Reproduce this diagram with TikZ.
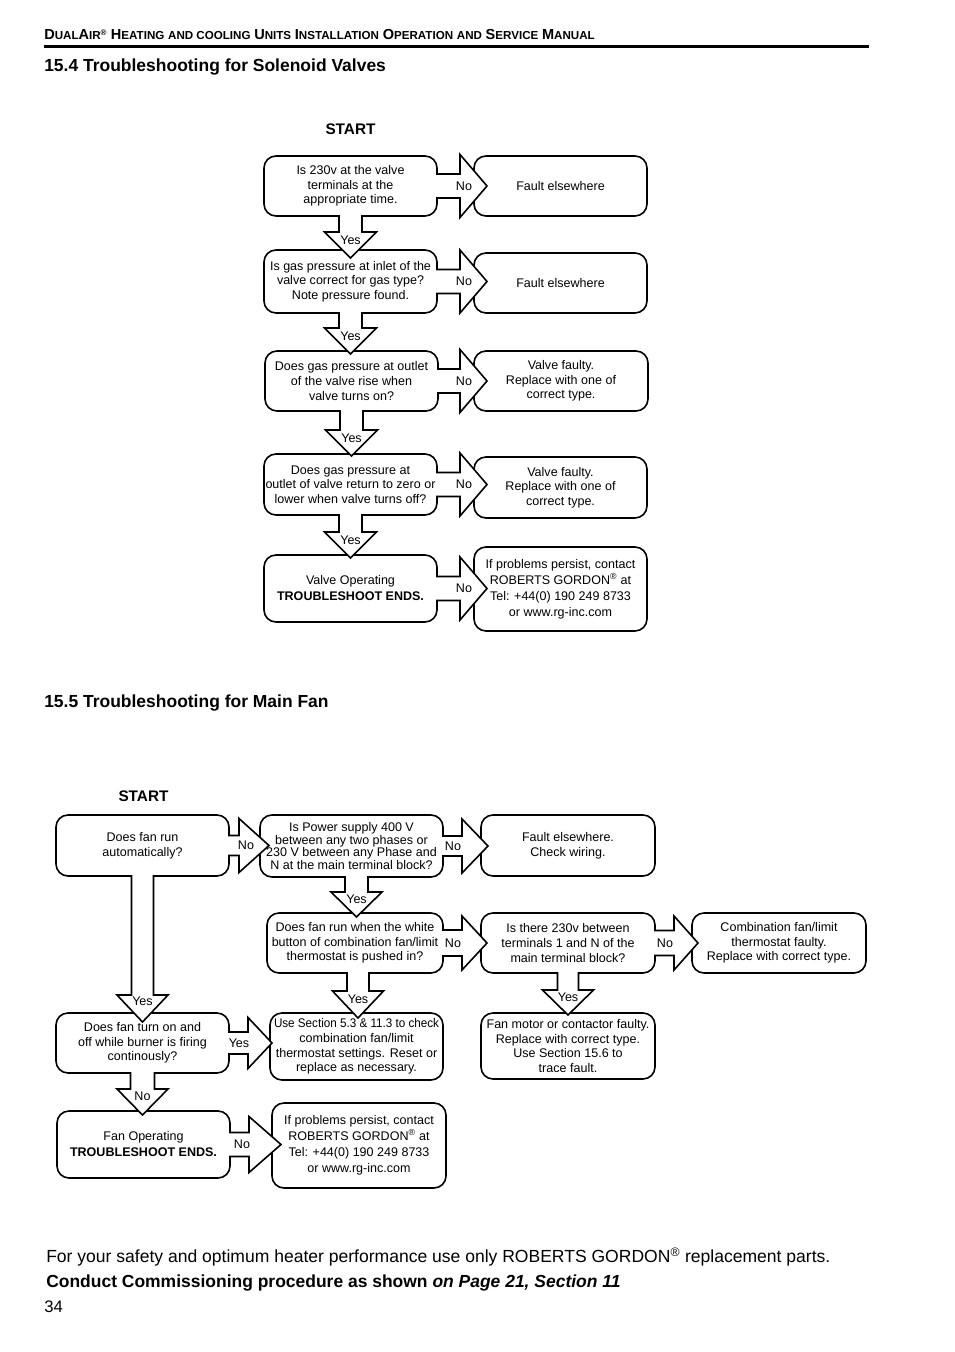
\documentclass[tikz,border=0pt]{standalone}
\usepackage{fontspec}
\setmainfont{Liberation Sans}
\usetikzlibrary{calc}
\newcommand\pxu{0.75pt}
\newcommand\boxfont{\fontsize{9.4}{10.9}\selectfont}
\newcommand\hsc[2]{{\fontsize{10.9}{12}\selectfont #1}{\fontsize{8.7}{12}\selectfont #2}}
\tikzset{
  box/.style={draw, fill=white, line width=1.2pt, rounded corners=9pt, inner sep=0pt, outer sep=0pt, align=center, font=\boxfont},
  arr/.style={draw, fill=white, line width=1.2pt, line join=miter},
  lbl/.style={inner sep=0pt, font=\boxfont},
  txt/.style={inner sep=0pt, anchor=base west},
}
% box: [opts]{name}{x1}{y1}{x2}{y2}{text}
\newcommand\bx[7][]{\node[box, minimum width={(#5-#3)*0.75pt}, minimum height={(#6-#4)*0.75pt}, #1] (#2) at ({(#3+#5)/2},{(#4+#6)/2}) {#7};}
% horizontal block arrow: src, tgt, headlen, overlap, halfshaft, halfhead, label offset (rel tgt.west), label
\newcommand\harr[8]{%
\filldraw[arr] let \p1=(#1.east), \p2=(#2.west) in
 ({\x1-0.7pt},{\y1+(#5)*\pxu}) -- ({\x2+((#4)-(#3))*\pxu},{\y1+(#5)*\pxu}) -- ({\x2+((#4)-(#3))*\pxu},{\y1+(#6)*\pxu}) -- ({\x2+(#4)*\pxu},\y1) -- ({\x2+((#4)-(#3))*\pxu},{\y1-(#6)*\pxu}) -- ({\x2+((#4)-(#3))*\pxu},{\y1-(#5)*\pxu}) -- ({\x1-0.7pt},{\y1-(#5)*\pxu});
\path let \p1=(#1.east), \p2=(#2.west) in node[lbl] at ({\x2+(#7)*\pxu},\y1) {#8};
}
% vertical block arrow: src, tgt, xshift, headlen, overlap, halfshaft, halfhead, label height above tip, label
\newcommand\varr[9]{%
\filldraw[arr] let \p1=(#1.south), \p2=(#2.north) in
 ({\x1+((#3)-(#6))*\pxu},{\y1+0.7pt}) -- ({\x1+((#3)-(#6))*\pxu},{\y2+((#4)-(#5))*\pxu}) -- ({\x1+((#3)-(#7))*\pxu},{\y2+((#4)-(#5))*\pxu}) -- ({\x1+(#3)*\pxu},{\y2-(#5)*\pxu}) -- ({\x1+((#3)+(#7))*\pxu},{\y2+((#4)-(#5))*\pxu}) -- ({\x1+((#3)+(#6))*\pxu},{\y2+((#4)-(#5))*\pxu}) -- ({\x1+((#3)+(#6))*\pxu},{\y1+0.7pt});
\path let \p1=(#1.south), \p2=(#2.north) in node[lbl] at ({\x1+(#3)*\pxu},{\y2+((#8)-(#5))*\pxu}) {#9};
}
\begin{document}
\begin{tikzpicture}[x=0.75pt, y=-0.75pt]
\useasboundingbox (0,0) rectangle (954,1352);
\fill[white] (0,0) rectangle (954,1352);

% header
\node[txt, font=\bfseries] (hdr) at (44,40) {\hsc{D}{UAL}\hsc{A}{IR}\textsuperscript{\fontsize{6}{6}\selectfont ®} \hsc{H}{EATING} \hsc{}{AND COOLING} \hsc{U}{NITS} \hsc{I}{NSTALLATION} \hsc{O}{PERATION} \hsc{}{AND} \hsc{S}{ERVICE} \hsc{M}{ANUAL}};
\draw[line width=2pt] (44,46.5) -- (869,46.5);

\node[txt, font=\fontsize{13.1}{15}\selectfont\bfseries] (t154) at (44,72) {15.4 Troubleshooting for Solenoid Valves};
\node[inner sep=0pt, anchor=base, font=\fontsize{11.5}{13}\selectfont\bfseries] (start1) at (350.5,135) {START};

% top chart boxes
\bx{q1}{264}{156}{437}{216}{Is 230v at the valve\\terminals at the\\appropriate time.}
\bx{f1}{474}{156}{647}{216}{Fault elsewhere}
\bx{q2}{264}{250}{437}{313}{Is gas pressure at inlet of the\\valve correct for gas type?\\Note pressure found.}
\bx{f2}{474}{253}{647}{313}{Fault elsewhere}
\bx{q3}{265}{351}{438}{411}{Does gas pressure at outlet\\of the valve rise when\\valve turns on?}
\bx{f3}{474}{351}{648}{411}{Valve faulty.\\Replace with one of\\correct type.}
\bx{q4}{264}{454}{437}{515}{Does gas pressure at\\outlet of valve return to zero or\\lower when valve turns off?}
\bx{f4}{474}{457}{647}{518}{Valve faulty.\\Replace with one of\\correct type.}
\bx[font=\fontsize{9.4}{12}\selectfont]{q5}{264}{555}{437}{622}{Valve Operating\\\textbf{TROUBLESHOOT ENDS.}}
\bx[font=\fontsize{9.4}{12}\selectfont]{f5}{474}{547}{647}{631}{If problems persist, contact\\ROBERTS GORDON\textsuperscript{®} at\\Tel: +44(0) 190 249 8733\\or www.rg-inc.com}

% top chart arrows
\harr{q1}{f1}{27}{13}{12}{31.5}{-10}{No}
\harr{q2}{f2}{27}{13}{12}{31.5}{-10}{No}
\harr{q3}{f3}{27}{13}{12}{31.5}{-10}{No}
\harr{q4}{f4}{27}{13}{12}{31.5}{-10}{No}
\harr{q5}{f5}{27}{13}{12}{31.5}{-10}{No}
\varr{q1}{q2}{0}{26}{8}{11.5}{26}{18}{Yes}
\varr{q2}{q3}{0}{26}{3}{11.5}{26}{18}{Yes}
\varr{q3}{q4}{0}{26}{2}{11.5}{26}{18}{Yes}
\varr{q4}{q5}{0}{26}{3}{11.5}{26}{18}{Yes}

% main fan
\node[txt, font=\fontsize{13.1}{15}\selectfont\bfseries] (t155) at (44,707) {15.5 Troubleshooting for Main Fan};
\node[inner sep=0pt, anchor=base, font=\fontsize{11.5}{13}\selectfont\bfseries] (start2) at (143.5,801) {START};

\bx{a}{56}{815}{229}{876}{Does fan run\\automatically?}
\bx[font=\fontsize{9.4}{9.6}\selectfont]{b}{260}{815}{443}{877}{Is Power supply 400 V\\between any two phases or\\230 V between any Phase and\\N at the main terminal block?}
\bx{c}{481}{815}{655}{876}{Fault elsewhere.\\Check wiring.}
\bx{h}{267}{913}{443}{973}{Does fan run when the white\\button of combination fan/limit\\thermostat is pushed in?}
\bx{i}{481}{913}{655}{973}{Is there 230v between\\terminals 1 and N of the\\main terminal block?}
\bx{j}{692}{913}{866}{973}{Combination fan/limit\\thermostat faulty.\\Replace with correct type.}
\bx{d}{56}{1013}{229}{1073}{Does fan turn on and\\off while burner is firing\\continously?}
\bx{e}{270}{1013}{443}{1080}{\scalebox{0.93}[1]{Use Section 5.3 \& 11.3 to check}\\combination fan/limit\\thermostat settings. Reset or\\replace as necessary.}
\bx{k}{481}{1013}{655}{1079}{Fan motor or contactor faulty.\\Replace with correct type.\\Use Section 15.6 to\\trace fault.}
\bx[font=\fontsize{9.4}{12}\selectfont]{f}{57}{1111}{230}{1178}{Fan Operating\\\textbf{TROUBLESHOOT ENDS.}}
\bx[font=\fontsize{9.4}{12}\selectfont]{g}{272}{1103}{446}{1188}{If problems persist, contact\\ROBERTS GORDON\textsuperscript{®} at\\Tel: +44(0) 190 249 8733\\or www.rg-inc.com}

\harr{a}{b}{30}{9}{10}{27}{-14}{No}
\harr{b}{c}{26}{7}{10}{27}{-28}{No}
\harr{h}{i}{25}{6}{13}{27}{-28}{No}
\harr{i}{j}{24}{6}{12.5}{27}{-27}{No}
\harr{d}{e}{24}{2}{11}{25.5}{-31}{Yes}
\harr{f}{g}{32}{9}{12}{28}{-30}{No}
\varr{a}{d}{0}{27}{9}{11}{25.5}{21}{Yes}
\varr{d}{f}{0}{26}{4}{12}{25.5}{19}{No}
\varr{b}{h}{5}{25}{4}{11.5}{25.5}{18}{Yes}
\varr{h}{e}{3}{27}{5}{11}{25.5}{19}{Yes}
\varr{i}{k}{0}{25}{2}{10.5}{25.5}{18}{Yes}

% footer
\node[txt, font=\fontsize{13.15}{15}\selectfont] (foot1) at (46,1262) {For your safety and optimum heater performance use only ROBERTS GORDON\textsuperscript{®} replacement parts.};
\node[txt, font=\fontsize{13.1}{15}\selectfont\bfseries] (foot2) at (46,1287) {Conduct Commissioning procedure as shown \textit{on Page 21, Section 11}};
\node[txt, font=\fontsize{12.5}{15}\selectfont] (pnum) at (44,1312) {34};
\end{tikzpicture}
\end{document}
